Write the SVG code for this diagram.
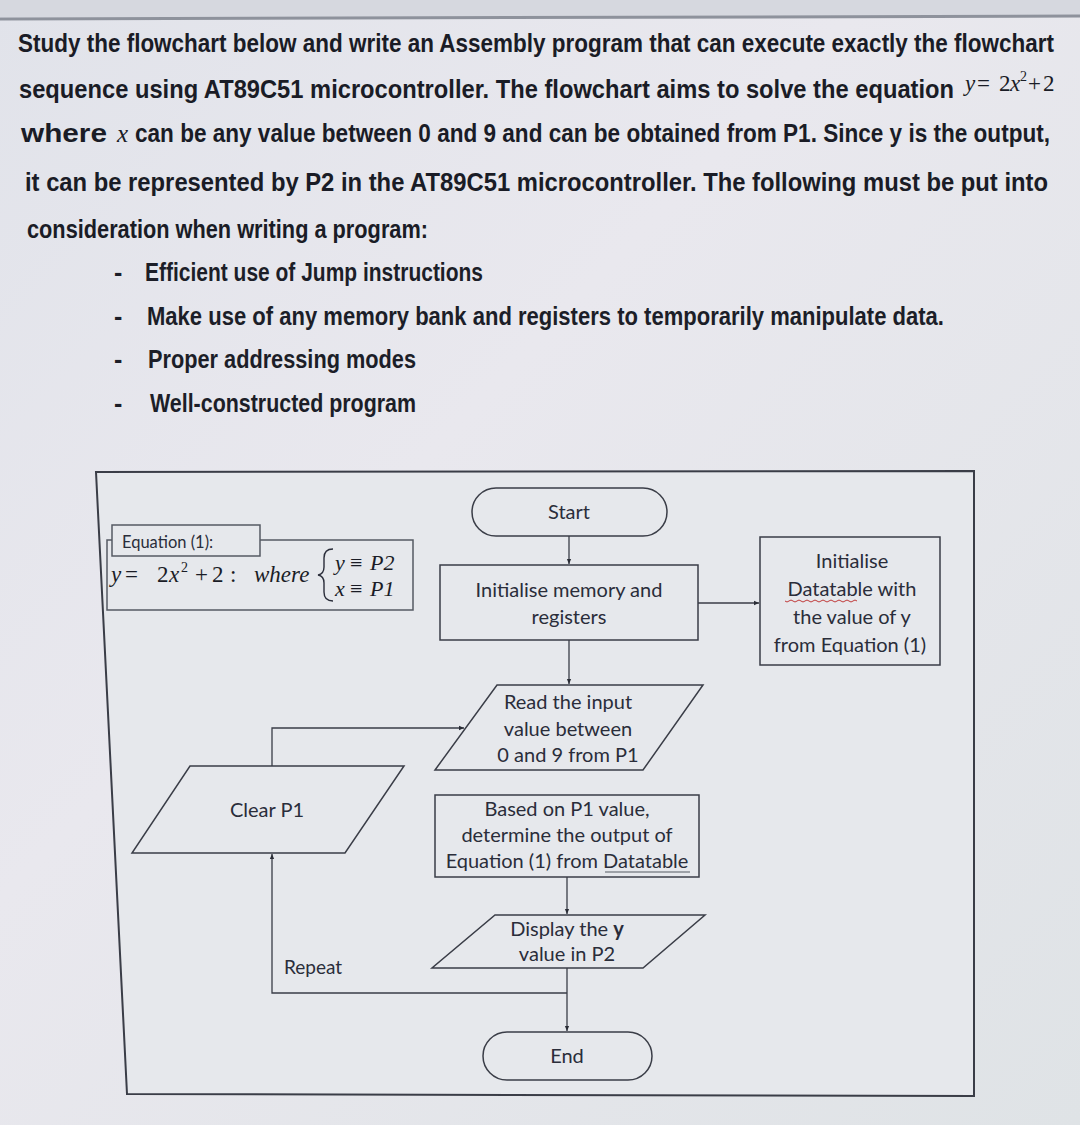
<svg xmlns="http://www.w3.org/2000/svg" width="1080" height="1125" viewBox="0 0 1080 1125">
<defs>
<linearGradient id="bg" x1="0" y1="0" x2="1" y2="1">
<stop offset="0" stop-color="#e1e3ea"/>
<stop offset="0.4" stop-color="#e9e8ee"/>
<stop offset="1" stop-color="#dfe3e6"/>
</linearGradient>
<marker id="ah" viewBox="0 0 8 8" refX="7" refY="4" markerWidth="6" markerHeight="6" orient="auto" markerUnits="userSpaceOnUse">
<path d="M0,1 L7,4 L0,7 z" fill="#2a2d36"/>
</marker>
<style>
.para{font-family:"Liberation Sans",Arial,sans-serif;font-weight:bold;font-size:26px;fill:#1a1c26}
.bul{font-family:"Liberation Sans",Arial,sans-serif;font-weight:bold;font-size:25px;fill:#1c1e28}
.math{font-family:"Liberation Serif","Times New Roman",serif;font-style:italic;fill:#1a1c26}
.up{font-style:normal}
.fc{font-family:Lato,"Open Sans",sans-serif;font-size:20px;fill:#2a2d3a;text-anchor:middle}
.shape{fill:none;stroke:#3a3d47;stroke-width:1.5}
.box{fill:none;stroke:#555a63;stroke-width:1.5}
.conn{fill:none;stroke:#3a3d47;stroke-width:1.3}
</style>
</defs>
<rect x="0" y="0" width="1080" height="1125" fill="url(#bg)"/>
<rect x="0" y="0" width="1080" height="17" fill="#d6d8df"/>
<line x1="0" y1="19" x2="1080" y2="16" stroke="#8e929c" stroke-width="3"/>

<!-- paragraph text -->
<text class="para" x="18" y="52" textLength="1036" lengthAdjust="spacingAndGlyphs">Study the flowchart below and write an Assembly program that can execute exactly the flowchart</text>
<text class="para" x="19" y="98" textLength="935" lengthAdjust="spacingAndGlyphs">sequence using AT89C51 microcontroller. The flowchart aims to solve the equation</text>
<text class="math" x="965" y="91" font-size="23">y<tspan class="up" x="977">=</tspan><tspan class="up" x="999">2</tspan><tspan x="1010">x</tspan><tspan class="up" x="1020" y="81" font-size="14">2</tspan><tspan class="up" x="1028" y="91">+</tspan><tspan class="up" x="1043">2</tspan></text>
<text class="para" x="21" y="142" textLength="86" lengthAdjust="spacingAndGlyphs">where</text>
<text class="math" x="117" y="142" font-size="25">x</text>
<text class="para" x="135" y="142" textLength="915" lengthAdjust="spacingAndGlyphs">can be any value between 0 and 9 and can be obtained from P1. Since y is the output,</text>
<text class="para" x="25" y="191" textLength="1023" lengthAdjust="spacingAndGlyphs">it can be represented by P2 in the AT89C51 microcontroller. The following must be put into</text>
<text class="para" x="27" y="238" textLength="401" lengthAdjust="spacingAndGlyphs">consideration when writing a program:</text>

<text class="bul" x="114" y="281">-</text>
<text class="bul" x="145" y="281" textLength="338" lengthAdjust="spacingAndGlyphs">Efficient use of Jump instructions</text>
<text class="bul" x="114" y="325">-</text>
<text class="bul" x="147" y="325" textLength="797" lengthAdjust="spacingAndGlyphs">Make use of any memory bank and registers to temporarily manipulate data.</text>
<text class="bul" x="114" y="368">-</text>
<text class="bul" x="148" y="368" textLength="268" lengthAdjust="spacingAndGlyphs">Proper addressing modes</text>
<text class="bul" x="114" y="412">-</text>
<text class="bul" x="150" y="412" textLength="266" lengthAdjust="spacingAndGlyphs">Well-constructed program</text>

<!-- flowchart frame -->
<polygon points="96,472 974,471 974,1096 127,1094" fill="#e6e8ec" stroke="#3a3d47" stroke-width="2"/>

<!-- equation -->
<g id="equation">
<rect x="107" y="540" width="306" height="70" class="box"/>
<rect x="112" y="525" width="148" height="31" fill="#e6e8ec" stroke="#555a63" stroke-width="1.5"/>
<text x="122" y="548" font-family="Lato,'Open Sans',sans-serif" font-size="16.5" fill="#2a2d3a">Equation (1):</text>
<text class="math" x="111" y="582" font-size="23">y<tspan class="up" x="125">=</tspan><tspan class="up" x="157">2</tspan><tspan x="169">x</tspan><tspan class="up" x="181" y="572" font-size="14">2</tspan><tspan class="up" x="195" y="582">+</tspan><tspan class="up" x="212">2</tspan><tspan class="up" x="230">:</tspan><tspan x="254">where</tspan></text>
<path d="M333,549 Q324,549 324,558 L324,567 Q324,574 318,575 Q324,576 324,583 L324,592 Q324,601 333,601" fill="none" stroke="#2a2d3a" stroke-width="1.4"/>
<text class="math" x="335" y="570" font-size="22">y<tspan class="up" x="350">≡</tspan><tspan x="370">P2</tspan></text>
<text class="math" x="335" y="596" font-size="22">x<tspan class="up" x="350">≡</tspan><tspan x="370">P1</tspan></text>
</g>

<!-- nodes -->
<g id="start">
<rect x="472" y="488" width="195" height="48" rx="24" ry="24" class="shape"/>
<text class="fc" x="569" y="519">Start</text>
</g>
<g id="init">
<rect x="440" y="565" width="258" height="75" class="shape"/>
<text class="fc" x="569" y="597">Initialise memory and</text>
<text class="fc" x="569" y="624">registers</text>
</g>
<g id="datatable">
<rect x="760" y="537" width="180" height="128" class="shape"/>
<text class="fc" x="852" y="568">Initialise</text>
<text class="fc" x="852" y="596">Datatable with</text>
<path d="M785,601 q2,2 4,0 t4,0 t4,0 t4,0 t4,0 t4,0 t4,0 t4,0 t4,0 t4,0 t4,0 t4,0 t4,0 t4,0 t4,0 t4,0 t4,0 t4,0" fill="none" stroke="#c03a3a" stroke-width="1"/>
<text class="fc" x="852" y="624">the value of y</text>
<text class="fc" x="850" y="652">from Equation (1)</text>
</g>
<g id="read">
<polygon points="497,685 703,685 643,770 435,770" class="shape"/>
<text class="fc" x="568" y="709">Read the input</text>
<text class="fc" x="568" y="736">value between</text>
<text class="fc" x="568" y="762">0 and 9 from P1</text>
</g>
<g id="clear">
<polygon points="190,766 404,766 345,853 132,853" class="shape"/>
<text class="fc" x="267" y="817">Clear P1</text>
</g>
<g id="based">
<rect x="435" y="795" width="264" height="82" class="shape"/>
<text class="fc" x="567" y="816">Based on P1 value,</text>
<text class="fc" x="567" y="842">determine the output of</text>
<text class="fc" x="567" y="868">Equation (1) from Datatable</text>
<line x1="605" y1="872" x2="690" y2="872" stroke="#555a63" stroke-width="1"/>
</g>
<g id="display">
<polygon points="495,915 705,915 643,968 432,968" class="shape"/>
<text class="fc" x="567" y="936">Display the <tspan font-weight="bold">y</tspan></text>
<text class="fc" x="567" y="961">value in P2</text>
</g>
<g id="end">
<rect x="483" y="1032" width="169" height="48" rx="24" ry="24" class="shape"/>
<text class="fc" x="567" y="1063">End</text>
</g>

<!-- connectors -->
<g id="connectors">
<line x1="569" y1="536" x2="569" y2="564" class="conn" marker-end="url(#ah)"/>
<line x1="698" y1="603" x2="759" y2="603" class="conn" marker-end="url(#ah)"/>
<line x1="569" y1="640" x2="569" y2="684" class="conn" marker-end="url(#ah)"/>
<polyline points="272,766 272,728 464,728" class="conn" marker-end="url(#ah)"/>
<line x1="567" y1="877" x2="567" y2="914" class="conn" marker-end="url(#ah)"/>
<line x1="567" y1="968" x2="567" y2="1031" class="conn" marker-end="url(#ah)"/>
<polyline points="567,993 272,993 272,854" class="conn" marker-end="url(#ah)"/>
<text x="284" y="974" font-family="Lato,'Open Sans',sans-serif" font-size="19" fill="#2a2d3a">Repeat</text>
</g>
</svg>
